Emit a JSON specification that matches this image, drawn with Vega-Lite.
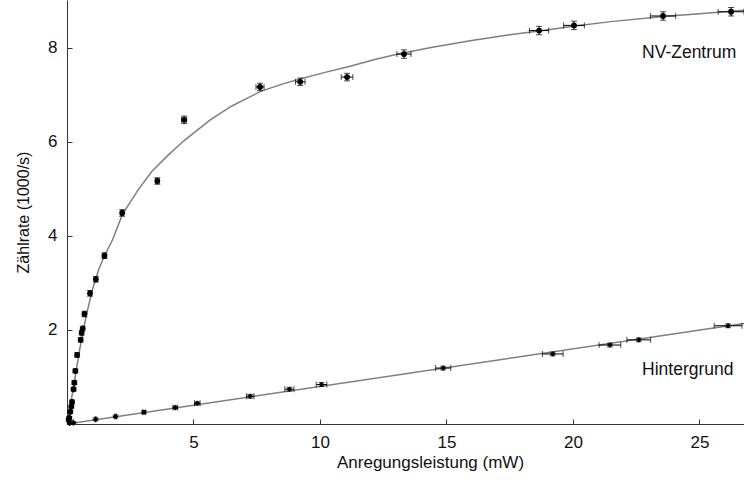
{
  "$schema": "https://vega.github.io/schema/vega-lite/v6.json",
  "width": 677,
  "height": 424,
  "autosize": {"type": "none"},
  "padding": {"left": 67, "top": 0, "right": 0, "bottom": 58},
  "background": "white",
  "config": {
    "view": {"stroke": null},
    "font": "Liberation Sans",
    "axis": {
      "grid": false,
      "domainColor": "#333333",
      "tickColor": "#333333",
      "labelColor": "#111111",
      "titleColor": "#111111",
      "labelFont": "Liberation Sans",
      "titleFont": "Liberation Sans",
      "labelFontSize": 17,
      "titleFontWeight": "normal",
      "tickSize": -5
    }
  },
  "datasets": {
    "nv": [
      {"P": 0.07, "R": 0.09, "eP": 0.01, "eR": 0.03},
      {"P": 0.09, "R": 0.13, "eP": 0.01, "eR": 0.03},
      {"P": 0.13, "R": 0.26, "eP": 0.01, "eR": 0.03},
      {"P": 0.17, "R": 0.37, "eP": 0.01, "eR": 0.03},
      {"P": 0.2, "R": 0.47, "eP": 0.01, "eR": 0.04},
      {"P": 0.26, "R": 0.74, "eP": 0.01, "eR": 0.04},
      {"P": 0.29, "R": 0.88, "eP": 0.01, "eR": 0.04},
      {"P": 0.33, "R": 1.13, "eP": 0.01, "eR": 0.04},
      {"P": 0.4, "R": 1.47, "eP": 0.01, "eR": 0.05},
      {"P": 0.54, "R": 1.79, "eP": 0.01, "eR": 0.05},
      {"P": 0.58, "R": 1.94, "eP": 0.01, "eR": 0.05},
      {"P": 0.62, "R": 2.03, "eP": 0.01, "eR": 0.05},
      {"P": 0.69, "R": 2.34, "eP": 0.02, "eR": 0.06},
      {"P": 0.91, "R": 2.78, "eP": 0.02, "eR": 0.06},
      {"P": 1.14, "R": 3.08, "eP": 0.02, "eR": 0.06},
      {"P": 1.48, "R": 3.58, "eP": 0.03, "eR": 0.06},
      {"P": 2.18, "R": 4.49, "eP": 0.05, "eR": 0.07},
      {"P": 3.57, "R": 5.17, "eP": 0.07, "eR": 0.07},
      {"P": 4.63, "R": 6.47, "eP": 0.1, "eR": 0.08},
      {"P": 7.63, "R": 7.17, "eP": 0.16, "eR": 0.08},
      {"P": 9.22, "R": 7.28, "eP": 0.19, "eR": 0.08},
      {"P": 11.07, "R": 7.38, "eP": 0.23, "eR": 0.08},
      {"P": 13.32, "R": 7.87, "eP": 0.28, "eR": 0.09},
      {"P": 18.66, "R": 8.37, "eP": 0.38, "eR": 0.09},
      {"P": 20.04, "R": 8.48, "eP": 0.41, "eR": 0.09},
      {"P": 23.56, "R": 8.68, "eP": 0.5, "eR": 0.09},
      {"P": 26.25, "R": 8.77, "eP": 0.51, "eR": 0.09}
    ],
    "bg": [
      {"P": 0.1, "R": 0.02, "eP": 0.01, "eR": 0.02},
      {"P": 0.25, "R": 0.03, "eP": 0.01, "eR": 0.02},
      {"P": 1.13, "R": 0.1, "eP": 0.02, "eR": 0.03},
      {"P": 1.92, "R": 0.16, "eP": 0.04, "eR": 0.03},
      {"P": 3.04, "R": 0.25, "eP": 0.06, "eR": 0.03},
      {"P": 4.28, "R": 0.35, "eP": 0.09, "eR": 0.03},
      {"P": 5.15, "R": 0.44, "eP": 0.11, "eR": 0.03},
      {"P": 7.24, "R": 0.59, "eP": 0.15, "eR": 0.04},
      {"P": 8.79, "R": 0.74, "eP": 0.18, "eR": 0.04},
      {"P": 10.06, "R": 0.84, "eP": 0.21, "eR": 0.04},
      {"P": 14.87, "R": 1.19, "eP": 0.3, "eR": 0.04},
      {"P": 19.2, "R": 1.49, "eP": 0.41, "eR": 0.04},
      {"P": 21.46, "R": 1.68, "eP": 0.43, "eR": 0.04},
      {"P": 22.6, "R": 1.79, "eP": 0.47, "eR": 0.04},
      {"P": 26.13, "R": 2.09, "eP": 0.55, "eR": 0.04}
    ],
    "fitnv": [
      {"P": 0, "R": 0},
      {"P": 0.1, "R": 0.3},
      {"P": 0.25, "R": 0.76},
      {"P": 0.5, "R": 1.58},
      {"P": 0.75, "R": 2.28},
      {"P": 1.0, "R": 2.85},
      {"P": 1.25, "R": 3.28},
      {"P": 1.48, "R": 3.58},
      {"P": 1.8, "R": 3.92},
      {"P": 2.2, "R": 4.47},
      {"P": 2.8, "R": 4.97},
      {"P": 3.35, "R": 5.37},
      {"P": 4.0, "R": 5.72},
      {"P": 4.63, "R": 6.03},
      {"P": 5.66, "R": 6.47},
      {"P": 6.5, "R": 6.76},
      {"P": 7.63, "R": 7.07},
      {"P": 8.5, "R": 7.23},
      {"P": 9.21, "R": 7.34},
      {"P": 10.2, "R": 7.48},
      {"P": 11.19, "R": 7.61},
      {"P": 12.2, "R": 7.76},
      {"P": 13.17, "R": 7.88},
      {"P": 14.5, "R": 8.02},
      {"P": 16.0, "R": 8.16},
      {"P": 17.5, "R": 8.28},
      {"P": 18.66, "R": 8.36},
      {"P": 20.0, "R": 8.46},
      {"P": 21.5, "R": 8.56},
      {"P": 23.56, "R": 8.67},
      {"P": 25.0, "R": 8.73},
      {"P": 26.76, "R": 8.8}
    ],
    "fitbg": [
      {"P": 0, "R": 0},
      {"P": 26.76, "R": 2.14}
    ],
    "labels": [
      {"P": 22.73, "R": 7.89, "t": "NV-Zentrum"},
      {"P": 22.73, "R": 1.15, "t": "Hintergrund"}
    ]
  },
  "encoding": {
    "x": {"field": "P", "type": "quantitative", "title": "Anregungsleistung (mW)",
      "scale": {"domain": [0, 26.76], "nice": false, "zero": false},
      "axis": {"values": [5, 10, 15, 20, 25], "labelPadding": 15, "titlePadding": 4, "titleFontSize": 17, "titleX": 363, "titleAlign": "center"}},
    "y": {"field": "R", "type": "quantitative", "title": "Zählrate (1000/s)",
      "scale": {"domain": [0, 9.02], "nice": false, "zero": false},
      "axis": {"values": [2, 4, 6, 8], "labelPadding": 15, "titlePadding": 16, "titleFontSize": 16}}
  },
  "layer": [
    {
      "data": {"name": "fitnv"},
      "mark": {"type": "line", "color": "#7f7f7f", "strokeWidth": 1.5, "clip": true}
    },
    {
      "data": {"name": "fitbg"},
      "mark": {"type": "line", "color": "#7f7f7f", "strokeWidth": 1.5, "clip": true}
    },
    {
      "data": {"name": "nv"},
      "layer": [
        {
          "mark": {"type": "errorbar", "ticks": {"size": 6, "thickness": 1, "color": "black"}, "rule": {"color": "black", "strokeWidth": 1}},
          "encoding": {"xError": {"field": "eP"}}
        },
        {
          "mark": {"type": "errorbar", "ticks": {"size": 6, "thickness": 1, "color": "black"}, "rule": {"color": "black", "strokeWidth": 1}},
          "encoding": {"yError": {"field": "eR"}}
        },
        {
          "mark": {"type": "point", "shape": "circle", "filled": true, "color": "black", "size": 34, "opacity": 1}
        }
      ]
    },
    {
      "data": {"name": "bg"},
      "layer": [
        {
          "mark": {"type": "errorbar", "ticks": {"size": 6, "thickness": 1, "color": "black"}, "rule": {"color": "black", "strokeWidth": 1}},
          "encoding": {"xError": {"field": "eP"}}
        },
        {
          "mark": {"type": "errorbar", "ticks": {"size": 6, "thickness": 1, "color": "black"}, "rule": {"color": "black", "strokeWidth": 1}},
          "encoding": {"yError": {"field": "eR"}}
        },
        {
          "mark": {"type": "point", "shape": "diamond", "filled": true, "color": "black", "size": 32, "opacity": 1}
        }
      ]
    },
    {
      "data": {"name": "labels"},
      "mark": {"type": "text", "align": "left", "baseline": "middle", "fontSize": 17.5, "font": "Liberation Sans", "color": "#111111"},
      "encoding": {"text": {"field": "t"}}
    }
  ]
}
